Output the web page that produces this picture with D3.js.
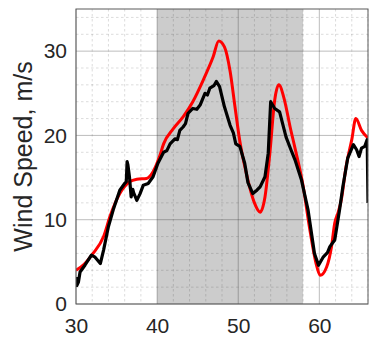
<!DOCTYPE html>
<html>
<head>
<meta charset="utf-8">
<script src="https://cdn.jsdelivr.net/npm/d3@7"></script>
<style>
  html, body { margin: 0; padding: 0; background: #fff; }
  svg { display: block; }
  text { font-family: "Liberation Sans", Arial, Helvetica, sans-serif; fill: #262626; }
</style>
</head>
<body>
<svg id="chart" width="370" height="338"></svg>
<script>
// ---- data ----
const modelX = [30.0, 31.0, 32.1, 33.4, 34.2, 35.4, 36.6, 37.5, 38.7, 39.5, 40.3, 40.8, 42.0, 43.2, 44.4, 45.7, 46.9, 47.6, 48.3, 49.0, 49.6, 50.2, 51.0, 51.4, 52.0, 52.7, 53.3, 53.9, 54.5, 55.0, 55.7, 56.4, 57.0, 58.0, 58.8, 59.6, 60.1, 60.9, 61.5, 61.9, 62.3, 62.7, 63.3, 64.0, 64.5, 65.2, 66.0];
const modelY = [4.0, 4.7, 6.0, 8.0, 10.4, 13.1, 14.5, 14.8, 14.9, 15.7, 17.5, 19.0, 20.8, 22.2, 24.0, 26.6, 29.3, 31.2, 30.5, 27.6, 23.4, 19.3, 15.5, 13.9, 12.0, 10.9, 12.7, 17.9, 24.2, 26.0, 24.2, 21.0, 18.5, 14.0, 9.0, 4.8, 3.4, 4.4, 6.8, 9.6, 10.8, 12.3, 16.3, 19.5, 22.0, 20.6, 19.7];

const measX = [30.0, 30.1, 30.3, 30.5, 31.1, 31.9, 32.3, 33.0, 33.4, 34.0, 34.6, 35.4, 36.0, 36.2, 36.3, 36.4, 36.6, 36.8, 37.0, 37.1, 37.5, 37.9, 38.3, 38.9, 39.5, 40.1, 40.8, 41.2, 41.6, 42.2, 42.5, 42.8, 43.2, 43.5, 43.8, 44.4, 44.9, 45.3, 45.9, 46.2, 46.5, 47.0, 47.3, 47.7, 48.3, 49.0, 49.4, 49.7, 50.2, 50.8, 51.2, 51.8, 52.3, 52.7, 53.3, 53.7, 54.0, 54.5, 55.1, 55.9, 56.5, 57.0, 57.8, 58.6, 59.4, 59.9, 60.5, 61.0, 61.3, 61.9, 62.5, 62.9, 63.5, 64.2, 64.6, 64.9, 65.2, 65.6, 65.9, 66.0];
const measY = [3.2, 2.2, 2.6, 3.8, 4.6, 5.8, 5.6, 4.8, 6.4, 9.2, 11.2, 13.5, 14.3, 14.5, 16.9, 16.5, 15.0, 12.7, 13.6, 13.2, 12.3, 13.1, 14.1, 14.3, 15.1, 16.7, 18.0, 18.2, 19.0, 19.6, 19.5, 20.6, 21.0, 21.4, 22.6, 23.2, 23.1, 23.6, 25.0, 24.8, 25.6, 25.9, 26.4, 25.8, 23.4, 21.2, 20.3, 19.0, 18.7, 16.7, 14.4, 13.1, 13.5, 13.9, 15.1, 17.9, 24.0, 23.2, 22.8, 19.8, 18.3, 17.1, 14.7, 11.2, 6.0, 4.6, 5.6, 6.1, 6.8, 7.6, 11.2, 13.9, 17.3, 18.9, 18.3, 17.5, 18.5, 18.7, 19.5, 12.0];

const shadeRange = [40, 58];
const xTicks = [30, 40, 50, 60];
const yTicks = [0, 10, 20, 30];
const xDomain = [30, 66];
const yDomain = [0, 35];
const yTitle = "Wind Speed, m/s";

// ---- layout ----
const svg = d3.select("#chart");
const L = 76, T = 9, R = 368, B = 304;
const x = d3.scaleLinear().domain(xDomain).range([L, R]);
const y = d3.scaleLinear().domain(yDomain).range([B, T]);

svg.append("defs").append("clipPath").attr("id", "clip")
  .append("rect").attr("x", L).attr("y", T).attr("width", R - L).attr("height", B - T);

// shaded region
svg.append("rect")
  .attr("x", x(shadeRange[0])).attr("y", T)
  .attr("width", x(shadeRange[1]) - x(shadeRange[0]))
  .attr("height", B - T)
  .attr("fill", "#cccccc");

// minor grid
const minorX = d3.range(xDomain[0], xDomain[1] + 0.001, 2).filter(v => v % 10 !== 0);
const minorY = d3.range(yDomain[0], yDomain[1] + 0.001, 2).filter(v => v % 10 !== 0);
const grid = svg.append("g");
grid.selectAll(".mx").data(minorX).join("line")
  .attr("x1", d => x(d)).attr("x2", d => x(d)).attr("y1", T).attr("y2", B)
  .attr("stroke", "#262626").attr("stroke-opacity", 0.16).attr("stroke-dasharray", "2.5,2.5");
grid.selectAll(".my").data(minorY).join("line")
  .attr("y1", d => y(d)).attr("y2", d => y(d)).attr("x1", L).attr("x2", R)
  .attr("stroke", "#262626").attr("stroke-opacity", 0.16).attr("stroke-dasharray", "2.5,2.5");
// major grid
grid.selectAll(".Mx").data(xTicks).join("line")
  .attr("x1", d => x(d)).attr("x2", d => x(d)).attr("y1", T).attr("y2", B)
  .attr("stroke", "#262626").attr("stroke-opacity", 0.3);
grid.selectAll(".My").data(yTicks).join("line")
  .attr("y1", d => y(d)).attr("y2", d => y(d)).attr("x1", L).attr("x2", R)
  .attr("stroke", "#262626").attr("stroke-opacity", 0.3);

// lines
const plot = svg.append("g").attr("clip-path", "url(#clip)");
const modelData = modelX.map((v, i) => [v, modelY[i]]);
const measData = measX.map((v, i) => [v, measY[i]]);

plot.append("path").datum(modelData)
  .attr("d", d3.line().x(d => x(d[0])).y(d => y(d[1])).curve(d3.curveMonotoneX))
  .attr("fill", "none").attr("stroke", "#ff0000").attr("stroke-width", 3)
  .attr("stroke-linejoin", "round");

plot.append("path").datum(measData)
  .attr("d", d3.line().x(d => x(d[0])).y(d => y(d[1])))
  .attr("fill", "none").attr("stroke", "#000000").attr("stroke-width", 3.2)
  .attr("stroke-linejoin", "round");

// axes
const fs = "21px";
const xAxis = svg.append("g").attr("transform", `translate(0,${B})`)
  .call(d3.axisBottom(x).tickValues(xTicks).tickSize(0).tickPadding(14).tickFormat(d3.format("d")));
xAxis.select(".domain").remove();
xAxis.selectAll("text").style("font-size", fs).attr("fill", "#262626");

const yAxis = svg.append("g").attr("transform", `translate(${L},0)`)
  .call(d3.axisLeft(y).tickValues(yTicks).tickSize(0).tickPadding(9).tickFormat(d3.format("d")));
yAxis.select(".domain").remove();
yAxis.selectAll("text").style("font-size", fs).attr("fill", "#262626");

// box
svg.append("rect").attr("x", L).attr("y", T).attr("width", R - L).attr("height", B - T)
  .attr("fill", "none").attr("stroke", "#5a5a5a").attr("stroke-width", 1);

// y title
svg.append("text")
  .attr("transform", `translate(32,${(T + B) / 2}) rotate(-90)`)
  .attr("text-anchor", "middle")
  .style("font-size", "25px")
  .text(yTitle);
</script>
</body>
</html>
